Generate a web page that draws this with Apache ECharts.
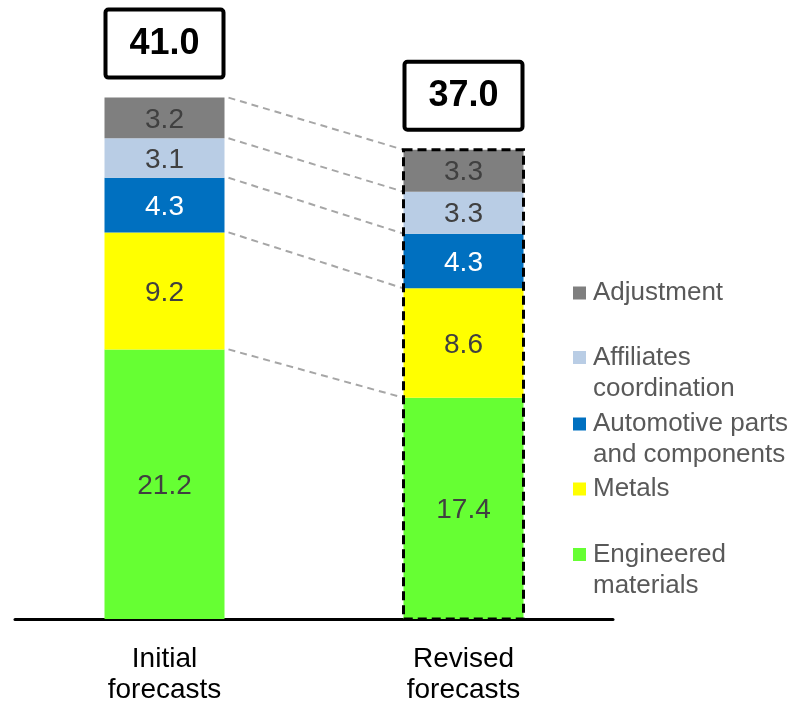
<!DOCTYPE html>
<html>
<head>
<meta charset="utf-8">
<script src="https://cdn.jsdelivr.net/npm/echarts@6/dist/echarts.min.js"></script>
<style>
  html, body { margin: 0; padding: 0; background: #ffffff; }
  #chart { width: 811px; height: 706px; }
</style>
</head>
<body>
<div id="chart"></div>
<script>
// Forecast breakdown by segment (stacked bottom to top)
const categories = ['Initial\nforecasts', 'Revised\nforecasts'];
const engineeredMaterials = [21.2, 17.4];
const metals = [9.2, 8.6];
const automotiveParts = [4.3, 4.3];
const affiliatesCoordination = [3.1, 3.3];
const adjustment = [3.2, 3.3];
const totals = [41.0, 37.0];
const outlined = [false, true];

const FONT = '"Liberation Sans", Arial, sans-serif';
const BAR_W = 120;

const segments = [
  { name: 'Engineered materials', data: engineeredMaterials, color: '#66ff33', text: '#404040', legend: ['Engineered', 'materials'] },
  { name: 'Metals', data: metals, color: '#ffff00', text: '#404040', legend: ['Metals'] },
  { name: 'Automotive parts and components', data: automotiveParts, color: '#0070c0', text: '#ffffff', legend: ['Automotive parts', 'and components'] },
  { name: 'Affiliates coordination', data: affiliatesCoordination, color: '#b9cde5', text: '#404040', legend: ['Affiliates', 'coordination'] },
  { name: 'Adjustment', data: adjustment, color: '#7f7f7f', text: '#404040', legend: ['Adjustment'] }
];

// cumulative top of each segment per bar
const cumulative = categories.map((_, i) => {
  let s = 0;
  return segments.map(seg => (s = +(s + seg.data[i]).toFixed(4)));
});
const stackTop = cumulative.map(c => c[c.length - 1]);

const barSeries = segments.map(seg => ({
  name: seg.name,
  type: 'bar',
  stack: 'total',
  barWidth: BAR_W,
  data: seg.data,
  itemStyle: { color: seg.color },
  label: {
    show: true,
    position: 'inside',
    offset: [0, 2],
    formatter: p => p.value.toFixed(1),
    color: seg.text,
    fontFamily: FONT,
    fontSize: 28
  },
  emphasis: { disabled: true },
  z: 2
}));

// dashed connectors between matching segment boundaries
const connectorData = segments.map((_, k) => [cumulative[0][k], cumulative[1][k]]);
const connectorSeries = {
  type: 'custom',
  name: 'connectors',
  data: connectorData,
  silent: true,
  z: 3,
  renderItem(params, api) {
    const a = api.coord([0, api.value(0)]);
    const b = api.coord([1, api.value(1)]);
    return {
      type: 'line',
      shape: { x1: a[0] + BAR_W / 2 + 4, y1: a[1], x2: b[0] - BAR_W / 2, y2: b[1] },
      style: { stroke: '#a6a6a6', lineWidth: 2, lineDash: [7, 5], fill: null }
    };
  }
};

// total boxes above bars, plus dashed outline on flagged bars
const totalSeries = {
  type: 'custom',
  name: 'totals',
  data: totals.map((t, i) => [i, t, stackTop[i], outlined[i] ? 1 : 0]),
  silent: true,
  z: 4,
  renderItem(params, api) {
    const i = api.value(0);
    const top = api.coord([i, api.value(2)]);
    const base = api.coord([i, 0]);
    const cx = top[0];
    const boxH = 68, gap = 20;
    const children = [
      {
        type: 'rect',
        shape: { x: cx - BAR_W / 2 + 1, y: top[1] - gap - boxH, width: BAR_W - 2, height: boxH, r: 3 },
        style: { fill: '#ffffff', stroke: '#000000', lineWidth: 4 }
      },
      {
        type: 'text',
        style: {
          x: cx, y: top[1] - gap - boxH / 2,
          text: api.value(1).toFixed(1),
          fontFamily: FONT, fontSize: 36, fontWeight: 'bold',
          fill: '#000000', align: 'center', verticalAlign: 'middle'
        }
      }
    ];
    if (api.value(3)) {
      children.push({
        type: 'rect',
        shape: { x: cx - BAR_W / 2, y: top[1], width: BAR_W, height: base[1] - top[1] },
        style: { fill: null, stroke: '#000000', lineWidth: 3, lineDash: [9, 5] }
      });
    }
    return { type: 'group', children };
  }
};

// one legend block per segment, top segment first; the icon sits on the first text line
const legendCenters = [293, 357.5, 424, 489, 554.5];
const legends = segments.slice().reverse().map((seg, j) => {
  const twoLine = seg.legend.length > 1;
  const text = twoLine ? ' \n' + seg.legend.join('\n') : seg.legend[0];
  return {
    data: [seg.name],
    left: 573,
    top: legendCenters[j] - (twoLine ? 46.5 : 15.5),
    padding: 0,
    icon: 'rect',
    itemWidth: 13,
    itemHeight: 13,
    selectedMode: false,
    formatter: () => text,
    textStyle: {
      fontFamily: FONT,
      fontSize: 26,
      color: '#595959',
      lineHeight: 31,
      padding: [0, 0, 0, 2]
    }
  };
});

const chart = echarts.init(document.getElementById('chart'), null, { renderer: 'canvas' });
chart.setOption({
  animation: false,
  backgroundColor: '#ffffff',
  grid: { left: 15, width: 598, top: 8.6, height: 614.4 },
  legend: legends,
  xAxis: {
    type: 'category',
    data: categories,
    axisLine: { show: true, lineStyle: { color: '#000000', width: 3 } },
    axisTick: { show: false },
    axisLabel: { fontFamily: FONT, fontSize: 28, color: '#000000', lineHeight: 31, margin: 25 }
  },
  yAxis: { type: 'value', min: 0, max: 48, show: false },
  series: [...barSeries, connectorSeries, totalSeries]
});
</script>
</body>
</html>
